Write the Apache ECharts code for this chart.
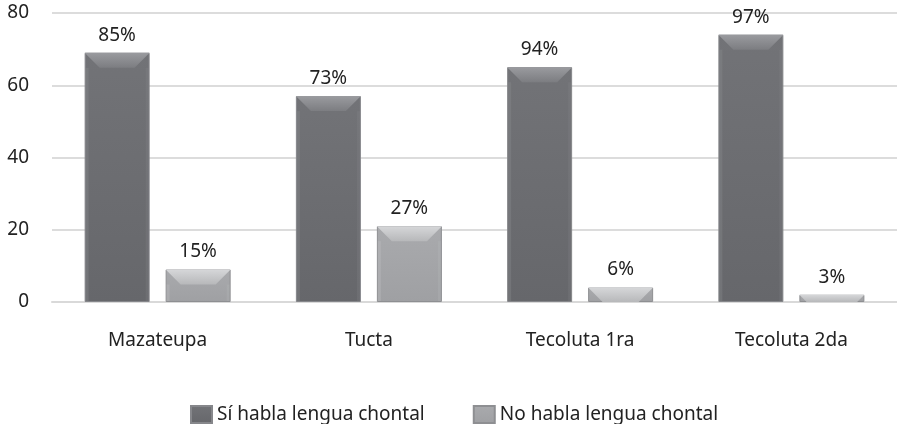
<!DOCTYPE html>
<html>
<head>
<meta charset="utf-8">
<script src="https://cdn.jsdelivr.net/npm/echarts@6/dist/echarts.min.js"></script>
<style>
  html, body { margin: 0; padding: 0; background: #fff; }
  #chart { width: 897px; height: 424px; }
</style>
</head>
<body>
<div id="chart"></div>
<script>
var categories = ['Mazateupa', 'Tucta', 'Tecoluta 1ra', 'Tecoluta 2da'];
var siValues = [69, 57, 65, 74];
var noValues = [9, 21, 4, 2];
var siLabels = ['85%', '73%', '94%', '97%'];
var noLabels = ['15%', '27%', '6%', '3%'];

var BAR_W = 65;
var BAR_GAP = 16;
var BEVEL = 15;

// bevelled top drawn over the plain bars
function bevel(offset, topLight, topDark, edge) {
  return function (params, api) {
    var c = api.coord([api.value(0), api.value(1)]);
    var base = api.coord([api.value(0), 0]);
    var x0 = c[0] + offset - BAR_W / 2;
    var x1 = x0 + BAR_W;
    var y0 = c[1];
    var y1 = base[1];
    var b = Math.min(BEVEL, y1 - y0);
    return {
      type: 'group',
      children: [
        {
          type: 'polygon',
          shape: { points: [[x0, y0], [x1, y0], [x1 - b, y0 + b], [x0 + b, y0 + b]] },
          style: {
            fill: new echarts.graphic.LinearGradient(0, 0, 0, 1, [
              { offset: 0, color: topLight },
              { offset: 1, color: topDark }
            ])
          }
        },
        {
          type: 'rect',
          shape: { x: x0 + 1, y: y0 + b, width: 3, height: Math.max(0, y1 - y0 - b - 1) },
          style: { fill: edge, opacity: 0.35 }
        },
        {
          type: 'rect',
          shape: { x: x1 - 4, y: y0 + b, width: 3, height: Math.max(0, y1 - y0 - b - 1) },
          style: { fill: edge, opacity: 0.2 }
        }
      ]
    };
  };
}

function pairs(vals) {
  return vals.map(function (v, i) { return [i, v]; });
}

var myChart = echarts.init(document.getElementById('chart'));
var option = {
  animation: false,
  textStyle: { fontFamily: 'Noto Sans' },
  grid: { left: 52, right: -7, top: 13, bottom: 122 },
  legend: {
    top: 400,
    left: 185,
    itemWidth: 21,
    itemHeight: 17,
    itemGap: 48,
    icon: 'rect',
    textStyle: { fontSize: 19, color: '#222' },
    data: ['Sí habla lengua chontal', 'No habla lengua chontal']
  },
  xAxis: {
    type: 'category',
    data: categories,
    axisLine: { lineStyle: { color: '#d9d9d9', width: 2 } },
    axisTick: { show: false },
    axisLabel: { fontSize: 19, color: '#222', margin: 29 }
  },
  yAxis: {
    type: 'value',
    min: 0,
    max: 80,
    interval: 20,
    axisLine: { show: false },
    axisTick: { show: false },
    axisLabel: { fontSize: 19, color: '#222', margin: 23 },
    splitLine: { lineStyle: { color: '#dcdcdc', width: 2 } }
  },
  series: [
    {
      name: 'Sí habla lengua chontal',
      type: 'bar',
      data: siValues,
      barWidth: BAR_W,
      barGap: (BAR_GAP / BAR_W * 100) + '%',
      itemStyle: {
        color: new echarts.graphic.LinearGradient(0, 0, 0, 1, [
          { offset: 0, color: '#727377' },
          { offset: 1, color: '#66676b' }
        ]),
        borderColor: '#86878b',
        borderWidth: 1
      },
      label: {
        show: true,
        position: 'top',
        distance: 8,
        fontSize: 19,
        color: '#222',
        formatter: function (p) { return siLabels[p.dataIndex]; }
      },
      z: 2
    },
    {
      name: 'No habla lengua chontal',
      type: 'bar',
      data: noValues,
      barWidth: BAR_W,
      itemStyle: {
        color: new echarts.graphic.LinearGradient(0, 0, 0, 1, [
          { offset: 0, color: '#a9aaad' },
          { offset: 1, color: '#9fa0a3' }
        ]),
        borderColor: '#8e8f92',
        borderWidth: 1
      },
      label: {
        show: true,
        position: 'top',
        distance: 8,
        fontSize: 19,
        color: '#222',
        formatter: function (p) { return noLabels[p.dataIndex]; }
      },
      z: 2
    },
    {
      type: 'custom',
      data: pairs(siValues),
      renderItem: bevel(-(BAR_W + BAR_GAP) / 2, '#9a9b9f', '#7c7d81', '#8a8b8f'),
      silent: true,
      z: 3
    },
    {
      type: 'custom',
      data: pairs(noValues),
      renderItem: bevel((BAR_W + BAR_GAP) / 2, '#d6d7d9', '#b7b8ba', '#c0c1c3'),
      silent: true,
      z: 3
    }
  ]
};
myChart.setOption(option);
</script>
</body>
</html>
